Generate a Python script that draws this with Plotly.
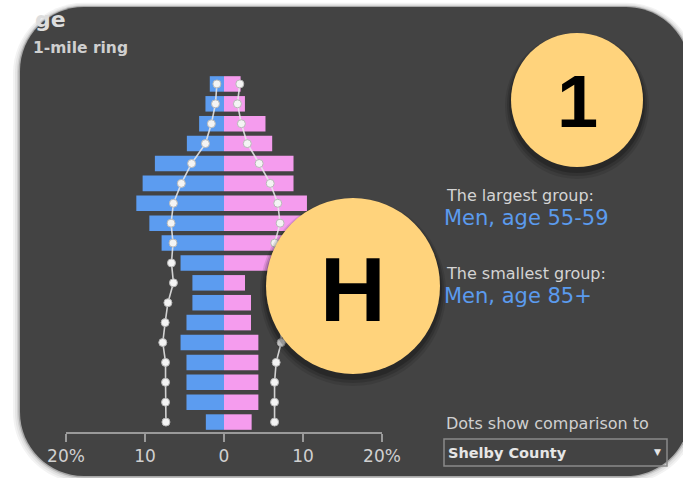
import plotly.graph_objects as go

# ---------------- data ----------------
age_groups = ["0-4", "5-9", "10-14", "15-19", "20-24", "25-29", "30-34", "35-39", "40-44",
              "45-49", "50-54", "55-59", "60-64", "65-69", "70-74", "75-79", "80-84", "85+"]
men_pct = [2.3, 4.75, 4.75, 4.75, 5.5, 4.75, 4.0, 4.0, 5.5, 7.9, 9.45, 11.1, 10.3, 8.75, 4.7, 3.15, 2.35, 1.8]
women_pct = [3.5, 4.35, 4.35, 4.35, 4.35, 3.42, 3.42, 2.66, 6.5, 8.5, 10.2, 10.5, 8.8, 8.8, 6.1, 5.25, 2.65, 2.1]
men_cmp = [7.35, 7.4, 7.4, 7.4, 7.75, 7.45, 7.1, 6.4, 6.65, 6.45, 6.7, 6.4, 5.4, 4.1, 2.35, 1.6, 1.08, 0.9]
women_cmp = [6.4, 6.4, 6.4, 6.6, 7.25, 7.2, 6.9, 6.5, 6.6, 6.42, 7.1, 6.8, 5.85, 4.45, 2.95, 2.2, 1.7, 2.0]
tick_vals = [-20, -10, 0, 10, 20]
tick_text = ["20%", "10", "0", "10", "20%"]

title_text = "ge"
subtitle_text = "1-mile ring"
largest_label = "The largest group:"
largest_value = "Men, age 55-59"
smallest_label = "The smallest group:"
smallest_value = "Men, age 85+"
dots_label = "Dots show comparison to"
dropdown_text = "Shelby County"

# ---------------- geometry helpers (pixels -> paper) ----------------
W, H = 683, 478
L, R, T, B = 66, 382, 72, 432


def px(x):
    return (x - L) / (R - L)


def py(y):
    return (B - y) / (B - T)


def rrect_path(x0, y0, x1, y1, r):
    k = 0.5523 * r

    def P(x, y):
        return f"{px(x):.5f},{py(y):.5f}"
    s = f"M {P(x0 + r, y0)} L {P(x1 - r, y0)} "
    s += f"C {P(x1 - r + k, y0)} {P(x1, y0 + r - k)} {P(x1, y0 + r)} "
    s += f"L {P(x1, y1 - r)} "
    s += f"C {P(x1, y1 - r + k)} {P(x1 - r + k, y1)} {P(x1 - r, y1)} "
    s += f"L {P(x0 + r, y1)} "
    s += f"C {P(x0 + r - k, y1)} {P(x0, y1 - r + k)} {P(x0, y1 - r)} "
    s += f"L {P(x0, y0 + r)} "
    s += f"C {P(x0, y0 + r - k)} {P(x0 + r - k, y0)} {P(x0 + r, y0)} Z"
    return s


ypos = list(range(len(age_groups)))

fig = go.Figure()

BLUE = "#5C9CF0"
PINK = "#F59CEE"

fig.add_trace(go.Bar(
    y=ypos, x=[-v for v in men_pct], orientation="h",
    marker=dict(color=BLUE, line=dict(width=0)), width=0.78, hoverinfo="skip"))
fig.add_trace(go.Bar(
    y=ypos, x=women_pct, orientation="h",
    marker=dict(color=PINK, line=dict(width=0)), width=0.78, hoverinfo="skip"))

for vals, sign in ((men_cmp, -1), (women_cmp, 1)):
    fig.add_trace(go.Scatter(
        y=ypos, x=[sign * v for v in vals], mode="lines+markers",
        line=dict(color="rgba(235,235,235,0.85)", width=1.6),
        marker=dict(color="#f4f4f4", size=8, line=dict(color="#b8b8b8", width=1)),
        hoverinfo="skip"))

shapes = []
# card shadow + card
for grow, col in ((7, "#f3f3f3"), (5, "#e6e6e6"), (3, "#d2d2d2"), (1.5, "#a8a8a8")):
    shapes.append(dict(type="path", xref="paper", yref="paper",
                       path=rrect_path(20 - grow, 7 - grow * 0.6, 690 + grow, 476 + grow, 64 + grow),
                       fillcolor=col, line=dict(width=0), layer="below"))
shapes.append(dict(type="path", xref="paper", yref="paper",
                   path=rrect_path(20, 7, 690, 476, 64),
                   fillcolor="#434343", line=dict(width=0), layer="below"))

# dropdown box
shapes.append(dict(type="rect", xref="paper", yref="paper",
                   x0=px(444), x1=px(667), y0=py(466), y1=py(439),
                   fillcolor="rgba(0,0,0,0)", line=dict(color="#8a8a8a", width=1.5),
                   layer="below"))

# yellow circle badges with shadows
CIRC = "#FFD37C"
for cx, cy, rx, ry in ((577, 100, 66, 67), (353, 286, 87, 88)):
    for g, dy, op in ((6, 6, 0.10), (4, 5, 0.14), (2, 4, 0.2)):
        shapes.append(dict(type="circle", xref="paper", yref="paper",
                           x0=px(cx - rx - g), x1=px(cx + rx + g),
                           y0=py(cy + ry + g + dy), y1=py(cy - ry - g + dy),
                           fillcolor=f"rgba(0,0,0,{op})", line=dict(width=0), layer="above"))
    shapes.append(dict(type="circle", xref="paper", yref="paper",
                       x0=px(cx - rx), x1=px(cx + rx), y0=py(cy + ry), y1=py(cy - ry),
                       fillcolor=CIRC, line=dict(width=0), layer="above"))

FONT = "DejaVu Sans"
ann = []


def text(x, y, s, size, color, bold=False, family=FONT, xanchor="left"):
    ann.append(dict(x=px(x), y=py(y), xref="paper", yref="paper", showarrow=False,
                    text=f"<b>{s}</b>" if bold else s, xanchor=xanchor, yanchor="middle",
                    font=dict(family=family, size=size, color=color)))


text(33, 19, title_text, 22, "#dddddd", bold=True)
text(31, 48, subtitle_text, 15.5, "#cfcfcf", bold=True)
text(444, 195, largest_label, 16, "#d4d4d4")
text(442, 218, largest_value, 21, "#5B9BEE")
text(444, 273, smallest_label, 16, "#d4d4d4")
text(442, 296, smallest_value, 21, "#5B9BEE")
text(444, 423, dots_label, 16, "#d0d0d0")
text(446, 453, dropdown_text, 14.5, "#e6e6e6", bold=True)
text(657, 452, "▼", 9, "#e6e6e6", xanchor="center")
text(577, 101, "1", 74, "#000000", bold=True, family="Liberation Sans", xanchor="center")
text(353, 289, "H", 91, "#000000", bold=True, family="Liberation Sans", xanchor="center")

fig.update_layout(
    width=W, height=H,
    margin=dict(l=L, r=W - R, t=T, b=H - B, pad=0),
    paper_bgcolor="white", plot_bgcolor="rgba(0,0,0,0)",
    barmode="overlay", showlegend=False,
    shapes=shapes, annotations=ann,
    xaxis=dict(range=[-20, 20], tickvals=tick_vals, ticktext=tick_text,
               showgrid=False, zeroline=False, showline=True, linecolor="#9a9a9a", linewidth=2,
               ticks="outside", ticklen=8, tickwidth=2, tickcolor="#9a9a9a",
               tickfont=dict(family=FONT, size=17, color="#d0d0d0"), fixedrange=True),
    yaxis=dict(range=[-0.5, 17.6], showgrid=False, zeroline=False, showline=False,
               showticklabels=False, ticks="", fixedrange=True),
)

fig.write_html("out.html", config={"displayModeBar": False},
               post_script="document.body.style.margin='0';document.body.style.overflow='hidden';")
